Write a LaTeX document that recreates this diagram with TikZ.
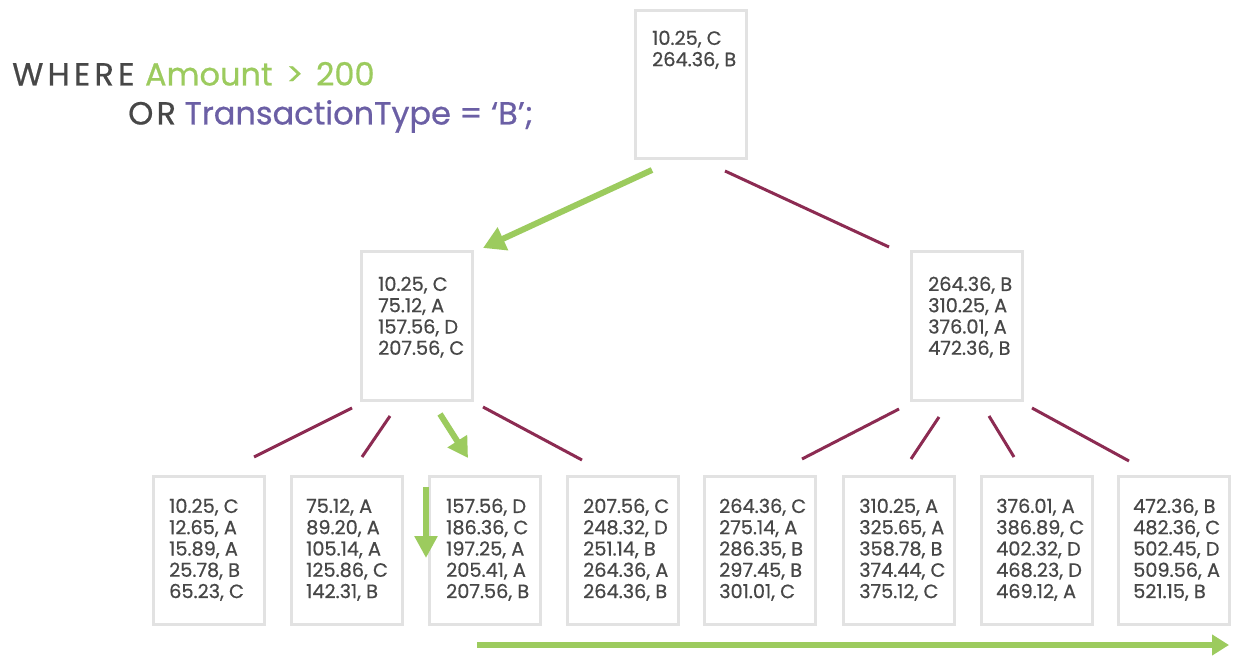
\documentclass[tikz,border=0pt]{standalone}
\usepackage{fontspec}
\setmainfont{Poppins}[FakeBold=0.6]
\usetikzlibrary{arrows.meta}
\definecolor{txtgray}{HTML}{474747}
\definecolor{boxgray}{HTML}{E2E2E2}
\definecolor{sqlgreen}{HTML}{9CCB5E}
\definecolor{sqlpurple}{HTML}{6B5FA5}
\definecolor{maroon}{HTML}{8C2B52}
\newcommand{\widecaps}[2]{{\addfontfeature{LetterSpace=#1}#2}}
\tikzset{
  box/.style={draw=boxgray, line width=3pt, minimum width=111pt, minimum height=148pt, anchor=north west, inner sep=0pt},
  txt/.style={anchor=north west, align=left, inner sep=0pt, text=txtgray, font=\fontsize{19.3}{21.3}\selectfont},
  title/.style={anchor=base west, inner sep=0pt, text=txtgray, font=\fontsize{32}{38}\selectfont},
  link/.style={draw=maroon, line width=3pt},
  garrow/.style={draw=sqlgreen, line width=6pt, -{Triangle[length=22pt,width=24pt]}}
}
\begin{document}
\begin{tikzpicture}[x=1pt,y=-1pt]
\useasboundingbox[fill=white] (0,0) rectangle (1256,671);
% title
\node[title] (w1) at (12,85.5) {\widecaps{13}{WHERE}\hspace{2pt} \textcolor{sqlgreen}{Amount\hspace{5pt} >\hspace{4pt} 200}};
\node[title] (w2) at (128,124.5) {\widecaps{10}{OR} \textcolor{sqlpurple}{TransactionType = ‘B’;}};
% root
\node[box] (root) at (633.5,9.5) {};
\node[txt] (roott) at (652,30.5) {10.25, C\\264.36, B};
% middle
\node[box] (ml) at (359.5,250.5) {};
\node[txt] (mlt) at (378,276.5) {10.25, C\\75.12, A\\157.56, D\\207.56, C};
\node[box] (mr) at (909.5,250.5) {};
\node[txt] (mrt) at (928,276.5) {264.36, B\\310.25, A\\376.01, A\\472.36, B};
% leaves
\node[box] (l1) at (151.5,474.5) {};
\node[txt] (l1t) at (169,498.5) {10.25, C\\12.65, A\\15.89, A\\25.78, B\\65.23, C};
\node[box] (l2) at (289.5,474.5) {};
\node[txt] (l2t) at (306,498.5) {75.12, A\\89.20, A\\105.14, A\\125.86, C\\142.31, B};
\node[box] (l3) at (427.5,474.5) {};
\node[txt] (l3t) at (446,498.5) {157.56, D\\186.36, C\\197.25, A\\205.41, A\\207.56, B};
\node[box] (l4) at (565.5,474.5) {};
\node[txt] (l4t) at (583,498.5) {207.56, C\\248.32, D\\251.14, B\\264.36, A\\264.36, B};
\node[box] (l5) at (702.5,474.5) {};
\node[txt] (l5t) at (719,498.5) {264.36, C\\275.14, A\\286.35, B\\297.45, B\\301.01, C};
\node[box] (l6) at (841.5,474.5) {};
\node[txt] (l6t) at (859,498.5) {310.25, A\\325.65, A\\358.78, B\\374.44, C\\375.12, C};
\node[box] (l7) at (979.5,474.5) {};
\node[txt] (l7t) at (996,498.5) {376.01, A\\386.89, C\\402.32, D\\468.23, D\\469.12, A};
\node[box] (l8) at (1116.5,474.5) {};
\node[txt] (l8t) at (1133,498.5) {472.36, B\\482.36, C\\502.45, D\\509.56, A\\521.15, B};
% connector end points
\coordinate (r1a) at (652,170);  \coordinate (r1b) at (483,248);
\coordinate (r2a) at (725,171);  \coordinate (r2b) at (889,247);
\coordinate (a1a) at (352,408);  \coordinate (a1b) at (254,457);
\coordinate (a2a) at (390,416);  \coordinate (a2b) at (362,457);
\coordinate (a3a) at (440,414);  \coordinate (a3b) at (468,458);
\coordinate (a4a) at (483,407);  \coordinate (a4b) at (582,460);
\coordinate (b1a) at (899,409);  \coordinate (b1b) at (802,459);
\coordinate (b2a) at (939,417);  \coordinate (b2b) at (911,459);
\coordinate (b3a) at (989,416);  \coordinate (b3b) at (1014,457);
\coordinate (b4a) at (1032,408); \coordinate (b4b) at (1129,461);
\coordinate (va) at (426,487);   \coordinate (vb) at (426,558);
\coordinate (ha) at (477,645);   \coordinate (hb) at (1229,645);
% connectors
\draw[garrow] (r1a) -- (r1b);
\draw[link] (r2a) -- (r2b);
\draw[link] (a1a) -- (a1b);
\draw[link] (a2a) -- (a2b);
\draw[garrow, -{Triangle[length=20pt,width=22pt]}] (a3a) -- (a3b);
\draw[link] (a4a) -- (a4b);
\draw[link] (b1a) -- (b1b);
\draw[link] (b2a) -- (b2b);
\draw[link] (b3a) -- (b3b);
\draw[link] (b4a) -- (b4b);
\draw[garrow, -{Triangle[length=22pt,width=22pt]}] (va) -- (vb);
\draw[garrow, -{Triangle[length=17pt,width=20pt]}] (ha) -- (hb);
\end{tikzpicture}
\end{document}
